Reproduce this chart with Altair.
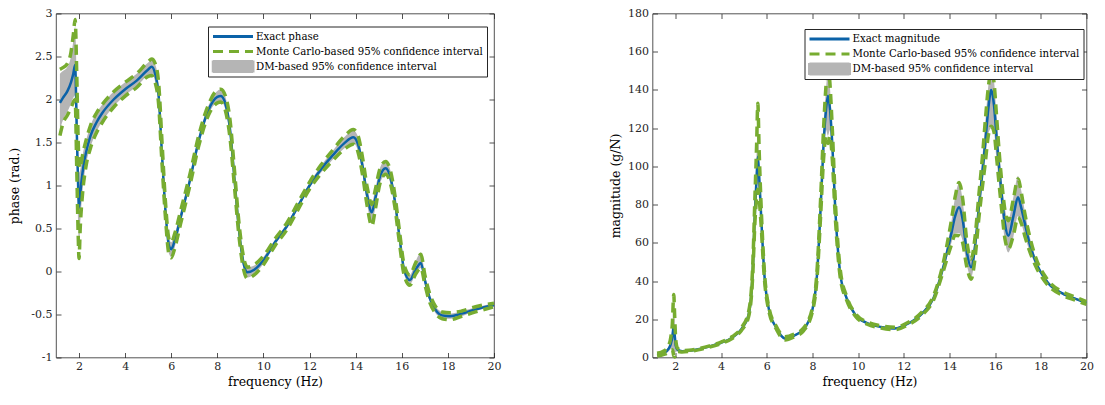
import altair as alt
import pandas as pd

# ---------------- data ----------------
freq_phase = [1.17, 1.3, 1.5, 1.65, 1.75, 1.83, 1.9, 1.96, 2.0, 2.05,
              2.15, 2.3, 2.5, 2.75, 3.0, 3.5, 4.0, 4.5, 5.0, 5.15,
              5.3, 5.45, 5.6, 5.75, 5.9, 6.0, 6.15, 6.4, 6.8, 7.2,
              7.6, 8.0, 8.15, 8.35, 8.55, 8.75, 8.95, 9.15, 9.3, 9.6,
              10.0, 10.5, 11.0, 11.5, 12.0, 12.5, 13.0, 13.5, 13.9, 14.1,
              14.3, 14.5, 14.7, 14.85, 15.05, 15.3, 15.5, 15.7, 15.9, 16.1,
              16.35, 16.6, 16.83, 17.0, 17.2, 17.45, 17.75, 18.1, 18.6, 19.2,
              20.0]
phase_exact = [1.96, 2.02, 2.10, 2.20, 2.30, 2.40, 1.65, 1.00, 0.74, 0.90,
               1.15, 1.38, 1.58, 1.73, 1.84, 2.00, 2.12, 2.22, 2.35, 2.38,
               2.30, 2.05, 1.35, 0.70, 0.30, 0.26, 0.36, 0.62, 1.05, 1.53,
               1.87, 2.03, 2.04, 1.95, 1.65, 1.05, 0.45, 0.08, -0.01, 0.02,
               0.13, 0.34, 0.52, 0.76, 1.00, 1.19, 1.35, 1.49, 1.56, 1.48,
               1.22, 0.88, 0.69, 0.85, 1.10, 1.20, 1.10, 0.82, 0.40, 0.02,
               -0.10, 0.02, 0.10, -0.10, -0.30, -0.44, -0.51, -0.52, -0.49, -0.44,
               -0.39]
phase_mc_lo = [1.58, 1.72, 1.82, 1.90, 1.97, 2.00, 1.20, 0.45, 0.15, 0.50,
               0.90, 1.22, 1.44, 1.61, 1.73, 1.91, 2.04, 2.14, 2.27, 2.28,
               2.20, 1.95, 1.25, 0.62, 0.20, 0.16, 0.27, 0.55, 0.99, 1.47,
               1.81, 1.96, 1.97, 1.87, 1.55, 0.96, 0.38, 0.01, -0.08, -0.04,
               0.08, 0.30, 0.48, 0.72, 0.96, 1.14, 1.29, 1.42, 1.48, 1.39,
               1.12, 0.76, 0.53, 0.72, 1.02, 1.13, 1.03, 0.75, 0.33, -0.04,
               -0.16, -0.03, 0.04, -0.15, -0.35, -0.48, -0.55, -0.56, -0.52, -0.47,
               -0.41]
phase_mc_hi = [2.35, 2.37, 2.42, 2.55, 2.75, 2.93, 2.30, 1.55, 1.25, 1.20,
               1.35, 1.52, 1.70, 1.84, 1.94, 2.09, 2.20, 2.30, 2.44, 2.47,
               2.42, 2.20, 1.50, 0.80, 0.38, 0.34, 0.44, 0.70, 1.12, 1.59,
               1.93, 2.11, 2.12, 2.04, 1.76, 1.15, 0.53, 0.15, 0.05, 0.08,
               0.18, 0.38, 0.56, 0.80, 1.04, 1.24, 1.41, 1.57, 1.65, 1.58,
               1.32, 0.98, 0.78, 0.95, 1.19, 1.28, 1.18, 0.89, 0.47, 0.08,
               -0.04, 0.10, 0.20, -0.04, -0.25, -0.40, -0.47, -0.48, -0.46, -0.41,
               -0.37]
phase_dm_lo = [1.65, 1.76, 1.86, 1.95, 2.02, 2.05, 1.25, 0.55, 0.28, 0.55,
               0.93, 1.24, 1.45, 1.62, 1.74, 1.92, 2.05, 2.15, 2.28, 2.29,
               2.21, 1.96, 1.27, 0.63, 0.21, 0.17, 0.28, 0.56, 1.00, 1.48,
               1.82, 1.97, 1.98, 1.88, 1.57, 0.97, 0.39, 0.02, -0.07, -0.03,
               0.09, 0.31, 0.49, 0.73, 0.97, 1.15, 1.30, 1.43, 1.49, 1.40,
               1.13, 0.78, 0.56, 0.74, 1.02, 1.12, 1.03, 0.76, 0.34, -0.03,
               -0.15, -0.03, 0.04, -0.15, -0.34, -0.48, -0.54, -0.55, -0.52, -0.46,
               -0.41]
phase_dm_hi = [2.30, 2.33, 2.38, 2.50, 2.68, 2.85, 2.20, 1.45, 1.15, 1.18,
               1.35, 1.52, 1.70, 1.84, 1.94, 2.09, 2.20, 2.30, 2.43, 2.46,
               2.41, 2.18, 1.48, 0.79, 0.38, 0.34, 0.44, 0.69, 1.11, 1.58,
               1.92, 2.10, 2.12, 2.03, 1.75, 1.14, 0.52, 0.14, 0.05, 0.07,
               0.17, 0.37, 0.55, 0.79, 1.03, 1.23, 1.40, 1.56, 1.64, 1.57,
               1.31, 0.97, 0.80, 0.96, 1.20, 1.29, 1.18, 0.88, 0.46, 0.07,
               -0.04, 0.12, 0.22, -0.03, -0.25, -0.40, -0.47, -0.49, -0.46, -0.42,
               -0.37]

freq_mag = [1.2, 1.5, 1.7, 1.8, 1.87, 1.93, 1.97, 2.02, 2.1, 2.3,
            2.6, 3.0, 3.5, 4.0, 4.5, 4.9, 5.2, 5.38, 5.49, 5.56,
            5.61, 5.67, 5.74, 5.9, 6.1, 6.4, 6.8, 7.2, 7.6, 8.0,
            8.2, 8.36, 8.49, 8.6, 8.68, 8.77, 8.87, 9.0, 9.23, 9.5,
            9.9, 10.4, 11.0, 11.6, 12.2, 12.8, 13.3, 13.7, 14.06, 14.25,
            14.42, 14.58, 14.75, 14.95, 15.12, 15.28, 15.45, 15.57, 15.7, 15.83,
            15.95, 16.07, 16.18, 16.29, 16.43, 16.58, 16.8, 17.0, 17.15, 17.29,
            17.5, 17.73, 18.3, 19.0, 19.5, 20.0]
mag_exact = [1.5, 2.5, 4.5, 7, 11, 16.5, 12, 6, 4, 3.3,
             3.5, 4.3, 5.8, 7.7, 10.5, 15, 22, 43, 78, 95,
             105, 95, 78, 43, 25, 16, 10, 11.5, 14.5, 25,
             43, 78, 112, 130, 137, 130, 112, 78, 43, 31,
             22, 18, 16, 15.2, 17.8, 23, 31, 46, 63.7, 74,
             78.6, 72, 56, 47.2, 58, 77.7, 98, 112.6, 130, 140,
             132, 114, 99, 84.7, 70, 63.7, 74, 83.8, 78, 70.7,
             60, 51.5, 39.3, 33.2, 30.8, 28.5]
mag_mc_lo = [0.8, 1.6, 2.8, 4.0, 4.0, 1.0, 0.2, 2.5, 3.2, 2.9,
             3.2, 4.0, 5.5, 7.3, 10.0, 14.3, 21, 41, 72, 84,
             88, 83, 72, 41, 24, 15.3, 9.2, 10.8, 13.8, 24,
             41, 74, 104, 116, 112, 116, 104, 74, 41, 30,
             21.3, 17.4, 15.4, 14.6, 17.2, 22.2, 30, 44, 58, 64,
             63.7, 60, 48, 41, 52, 72, 90, 102, 116, 121,
             118, 104, 90, 77, 62, 56.8, 64, 73.3, 70, 64,
             56, 49, 38, 32.3, 30.0, 27.8]
mag_mc_hi = [2.2, 3.4, 6.2, 10.5, 18, 33, 22, 9, 4.8, 3.7,
             3.8, 4.6, 6.1, 8.1, 11.0, 15.7, 23.5, 46, 86, 112,
             133, 108, 84, 45, 26, 16.7, 10.8, 12.2, 15.2, 26,
             45, 83, 120, 143, 154, 143, 120, 83, 45, 32,
             22.7, 18.6, 16.6, 15.8, 18.4, 23.8, 32.2, 48, 70, 84,
             91.6, 83, 62, 51.5, 63, 84, 106, 124, 141, 150,
             144, 125, 107, 92, 77, 71.6, 83, 93.4, 86, 76,
             64, 54, 40.6, 34.1, 31.6, 29.2]
mag_dm_lo = [1.0, 1.8, 3.2, 4.5, 5.0, 3.0, 2.0, 3.0, 3.3, 3.0,
             3.3, 4.1, 5.6, 7.4, 10.1, 14.5, 21.2, 41.5, 73, 86,
             91, 85, 73, 41.5, 24.3, 15.5, 9.4, 11.0, 14, 24.3,
             41.5, 75, 106, 119, 116, 119, 106, 75, 41.5, 30.2,
             21.5, 17.5, 15.5, 14.7, 17.3, 22.4, 30.2, 44.5, 59, 65,
             65, 61, 49, 42, 53, 73, 91, 104, 117, 120,
             118, 103, 90, 76, 61, 55, 63, 74, 70, 64,
             56, 49.5, 38.3, 32.5, 30.2, 28]
mag_dm_hi = [2.0, 3.2, 5.8, 9.5, 16, 30, 20, 8.5, 4.7, 3.6,
             3.7, 4.5, 6.0, 8.0, 10.9, 15.5, 23, 45, 84, 108,
             122, 105, 83, 44.5, 25.7, 16.5, 10.6, 12.0, 15, 25.7,
             44.5, 82, 119, 141, 150, 141, 119, 82, 44.5, 31.8,
             22.5, 18.5, 16.5, 15.7, 18.3, 23.6, 31.8, 47.5, 69, 84,
             91, 82, 62, 53, 63, 83, 106, 123, 142, 152,
             145, 126, 108, 93, 78, 72, 84, 95, 87, 77,
             64, 53.5, 40.3, 33.9, 31.4, 29]

x_ticks = [2, 4, 6, 8, 10, 12, 14, 16, 18, 20]
phase_ticks = [-1, -0.5, 0, 0.5, 1, 1.5, 2, 2.5, 3]
mag_ticks = [0, 20, 40, 60, 80, 100, 120, 140, 160, 180]

LBL_MC = "Monte Carlo-based 95% confidence interval"
LBL_DM = "DM-based 95% confidence interval"

# ---------------- style ----------------
FONT = "DejaVu Serif"
BLUE = "#0b62a8"
GREEN = "#77AC30"
GRAY = "#b5b5b5"
AX = "#262626"
RECT = "M-1,-0.3H1V0.3H-1Z"


def panel(freq, exact, mc_lo, mc_hi, dm_lo, dm_hi, y_domain, y_ticks,
          y_title, exact_label, lx, ly, width, height, y_title_pad):
    band = pd.DataFrame({"f": freq, "lo": dm_lo, "hi": dm_hi})
    ex = pd.DataFrame({"f": freq, "v": exact, "series": exact_label})
    mc = pd.concat([
        pd.DataFrame({"f": freq, "v": mc_lo, "series": LBL_MC, "bound": "lo"}),
        pd.DataFrame({"f": freq, "v": mc_hi, "series": LBL_MC, "bound": "hi"}),
    ])
    domain = [exact_label, LBL_MC, LBL_DM]
    xs = alt.Scale(domain=[1, 20], nice=False, zero=False)
    ys = alt.Scale(domain=y_domain, nice=False, zero=False)
    cscale = alt.Scale(domain=domain, range=[BLUE, GREEN, GRAY])

    inner = dict(domain=False, grid=False, tickSize=5, offset=-5,
                 tickColor=AX, tickWidth=0.8)
    x_bottom = alt.Axis(orient="bottom", values=x_ticks, title="frequency (Hz)",
                        labelPadding=3, titlePadding=4, labelFlush=False,
                        labelExpr="toString(datum.value)", **inner)
    y_left = alt.Axis(orient="left", values=y_ticks, title=y_title,
                      labelPadding=4, titlePadding=y_title_pad,
                      labelExpr="toString(datum.value)", **inner)
    x_top = alt.Axis(orient="top", values=x_ticks, labels=False, title=None, **inner)
    y_right = alt.Axis(orient="right", values=y_ticks, labels=False, title=None, **inner)

    is_dm = "datum.value == '" + LBL_DM + "'"
    is_mc = "datum.value == '" + LBL_MC + "'"
    legend = alt.Legend(
        orient="none", legendX=lx, legendY=ly, title=None,
        symbolType=alt.ExprRef(expr=is_dm + " ? '" + RECT + "' : 'stroke'"),
        symbolFillColor=alt.ExprRef(expr=is_dm + " ? '" + GRAY + "' : 'transparent'"),
        symbolDash=alt.ExprRef(expr=is_mc + " ? [10, 6] : [1, 0]"),
        symbolSize=1600, symbolStrokeWidth=3,
        symbolOffset=0, labelOffset=1.5, clipHeight=13, rowPadding=2,
        padding=3.5, fillColor="white", strokeColor=AX,
        labelFont=FONT, labelFontSize=10.2, labelColor="black", labelLimit=400,
    )

    area = alt.Chart(band).mark_area(color=GRAY, opacity=1, interpolate="monotone").encode(
        x=alt.X("f:Q", scale=xs, axis=x_bottom),
        y=alt.Y("lo:Q", scale=ys, axis=y_left),
        y2="hi:Q",
    )
    exact_line = alt.Chart(ex).mark_line(strokeWidth=2.5, interpolate="monotone").encode(
        x=alt.X("f:Q", scale=xs, axis=x_top),
        y=alt.Y("v:Q", scale=ys, axis=y_right),
        color=alt.Color("series:N", scale=cscale, legend=legend),
    )
    mc_line = alt.Chart(mc).mark_line(strokeWidth=3.5, strokeDash=[10, 6],
                                      interpolate="monotone").encode(
        x=alt.X("f:Q", scale=xs, axis=None),
        y=alt.Y("v:Q", scale=ys, axis=None),
        color=alt.Color("series:N", scale=cscale, legend=legend),
        detail="bound:N",
    )
    return alt.layer(area, exact_line, mc_line).resolve_axis(
        x="independent", y="independent"
    ).properties(width=width, height=height)


left = panel(freq_phase, phase_exact, phase_mc_lo, phase_mc_hi, phase_dm_lo, phase_dm_hi,
             [-1, 3], phase_ticks, "phase (rad.)", "Exact phase", 152, 13, 438, 344, 9)
right = panel(freq_mag, mag_exact, mag_mc_lo, mag_mc_hi, mag_dm_lo, mag_dm_hi,
              [0, 180], mag_ticks, "magnitude (g/N)", "Exact magnitude", 152, 15.5, 434, 344, 5.5)

chart = alt.hconcat(left, right, spacing=106.5).resolve_scale(
    color="independent"
).resolve_legend(
    color="independent"
).properties(
    padding={"left": 0, "top": -1.5, "right": 0, "bottom": 0},
    background="white",
).configure_view(
    stroke=AX, strokeWidth=0.8
).configure_axis(
    labelFont=FONT, titleFont=FONT, labelFontSize=11, titleFontSize=12.5,
    labelColor=AX, titleColor="black", titleFontWeight="normal",
)

chart.save("out.html", embed_options={"renderer": "svg", "actions": False})
